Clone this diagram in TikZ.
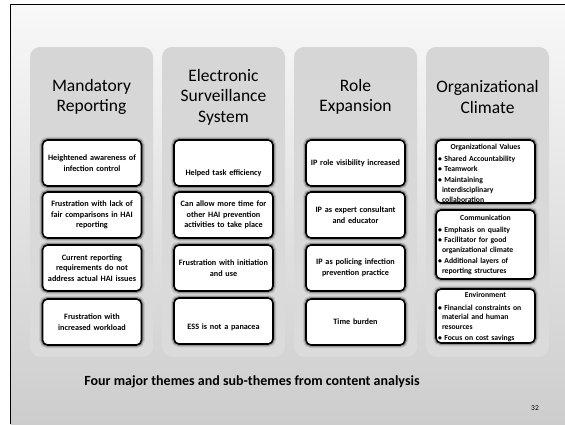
\documentclass[tikz,border=0pt]{standalone}
\usepackage{fontspec}
\setmainfont{Carlito}
\usetikzlibrary{positioning}
\definecolor{slidetop}{HTML}{F8F8F8}
\definecolor{slidebot}{HTML}{CDCDCD}
\definecolor{themetop}{HTML}{D6D6D6}
\definecolor{themebot}{HTML}{DBDBDB}
\begin{document}
\begin{tikzpicture}[x=1pt, y=-1pt,
  theme/.style={rounded corners=10pt, top color=themetop, bottom color=themebot},
  head/.style={font=\fontsize{17.5}{20.5}\selectfont, align=center},
  sub/.style={draw=black, line width=1.6pt, fill=white, rounded corners=5pt,
    minimum width=99pt, minimum height=46pt, inner sep=1pt,
    preaction={draw=black, opacity=0.1, line width=6.5pt},
    preaction={draw=black, opacity=0.25, line width=4pt},
    font=\bfseries\fontsize{8.2}{10.5}\selectfont, align=center, text width=96pt},
  list/.style={font=\bfseries\fontsize{7.7}{9.8}\selectfont, align=left,
    text width=95pt, inner sep=0pt}]

\useasboundingbox (0,0) rectangle (565,424);
\fill[white] (0,0) rectangle (565,424);
\shade[top color=slidetop, bottom color=slidebot] (10.5,4.5) rectangle (565,424);
\draw[line width=1.5pt] (10.5,424) -- (10.5,4.5) -- (565,4.5);

\foreach \x in {30,162,294,426}
  \path[theme] (\x,47) rectangle +(123,310);

\node[head] (t1) at (91.5,97) {Mandatory\\Reporting};
\node[head] (t2) at (223.5,97) {Electronic\\Surveillance\\System};
\node[head] (t3) at (355.5,97) {Role\\Expansion};
\node[head] (t4) at (487.5,97) {Organizational\\Climate};

\node[sub] (m1) at (92,163) {Heightened awareness of\\infection control};
\node[sub] (m2) at (92,215) {Frustration with lack of\\fair comparisons in HAI\\reporting};
\node[sub] (m3) at (92,268) {Current reporting\\requirements do not\\address actual HAI issues};
\node[sub] (m4) at (92,322) {Frustration with\\increased workload};

\node[sub] (e1) at (223.5,163) {\strut\\[9pt]Helped task efficiency};
\node[sub] (e2) at (223.5,215) {Can allow more time for\\other HAI prevention\\activities to take place};
\node[sub] (e3) at (223.5,268) {Frustration with initiation\\and use};
\node[sub] (e4) at (223.5,321) {\strut\\ESS is not a panacea};

\node[sub] (r1) at (355.5,163) {IP role visibility increased};
\node[sub] (r2) at (355.5,215) {IP as expert consultant\\and educator};
\node[sub] (r3) at (355.5,268) {IP as policing infection\\prevention practice};
\node[sub] (r4) at (355.5,322) {Time burden};

\node[sub, minimum height=63pt] (o1) at (485.5,171.5) {};
\node[sub, minimum height=69pt] (o2) at (485.5,244.5) {};
\node[sub, minimum height=54pt] (o3) at (485.5,316) {};

\node[list, below=5pt of o1.north] (o1t) {\makebox[95pt]{Organizational Values}\\[1.5pt]
  • Shared Accountability\\[1pt]
  • Teamwork\\[1pt]
  • Maintaining\\
  \hspace*{4pt}interdisciplinary\\
  \hspace*{4pt}collaboration};
\node[list, below=6pt of o2.north] (o2t) {\makebox[95pt]{Communication}\\[1.5pt]
  • Emphasis on quality\\[1pt]
  • Facilitator for good\\
  \hspace*{4pt}organizational climate\\[1pt]
  • Additional layers of\\
  \hspace*{4pt}reporting structures};
\node[list, below=4pt of o3.north] (o3t) {\makebox[95pt]{Environment}\\[2.5pt]
  • Financial constraints on\\
  \hspace*{4pt}material and human\\
  \hspace*{4pt}resources\\[1pt]
  • Focus on cost savings};

\node[font=\bfseries\fontsize{14}{16}\selectfont] (cap) at (252,382)
  {Four major themes and sub-themes from content analysis};
\node[font=\fontsize{7.5}{8}\selectfont] (pg) at (535,408) {32};

\end{tikzpicture}
\end{document}
